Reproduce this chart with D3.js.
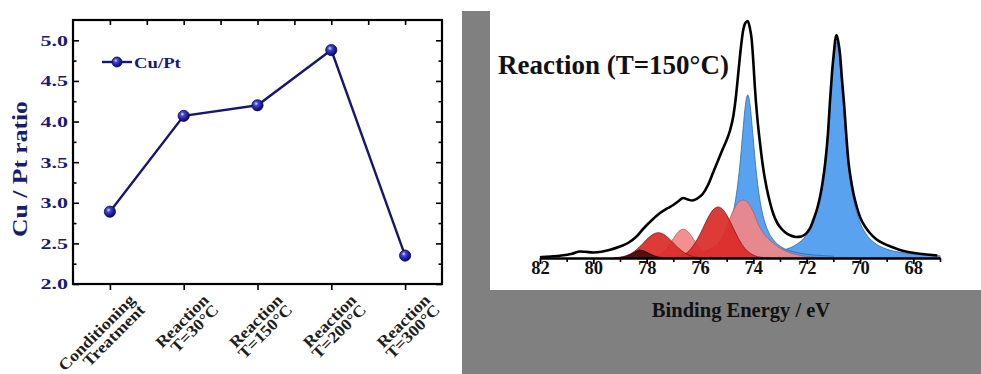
<!DOCTYPE html>
<html>
<head>
<meta charset="utf-8">
<script src="https://cdn.jsdelivr.net/npm/d3@7/dist/d3.min.js"></script>
<style>
  html, body { margin: 0; padding: 0; background: #fff; }
  svg { display: block; }
  text { font-family: "Liberation Serif", "Times New Roman", Times, serif; font-weight: bold; }
</style>
</head>
<body>
<svg id="fig" width="981" height="374"></svg>
<script>
// ---------- Left panel: Cu/Pt surface ratio per treatment step ----------
const categories = [
  ["Conditioning", "Treatment"],
  ["Reaction", "T=30°C"],
  ["Reaction", "T=150°C"],
  ["Reaction", "T=200°C"],
  ["Reaction", "T=300°C"]
];
const ratioValues = [2.89, 4.07, 4.20, 4.88, 2.35];
const ratioTicks = [2.0, 2.5, 3.0, 3.5, 4.0, 4.5, 5.0];
const ratioMinorTicks = [2.25, 2.75, 3.25, 3.75, 4.25, 4.75];
const seriesName = "Cu/Pt";
const ratioTitle = "Cu / Pt ratio";

// ---------- Right panel: Pt 4f spectrum, Reaction (T=150°C) ----------
const spectrumTitle = "Reaction (T=150°C)";
const energyTitle = "Binding Energy / eV";
const energyTicks = [82, 80, 78, 76, 74, 72, 70, 68];
const energyMinorTicks = [81, 79, 77, 75, 73, 71, 69, 67];

// measured envelope [binding energy (eV), intensity (a.u.)]
const envelope = [
  [82.0,0.7],[81.6,1.5],[81.2,2.5],[80.8,4.3],[80.5,6.5],[80.3,6.2],[80.0,5.5],[79.7,6.2],
  [79.4,8],[79.0,11.5],[78.7,15],[78.4,21],[78.1,30],[77.8,38],[77.5,45],[77.2,50],[77.0,53],
  [76.8,57],[76.63,60],[76.45,58.5],[76.3,57.5],[76.1,59.5],[75.9,64],[75.7,73],[75.5,86],
  [75.3,99],[75.13,110],[75.0,118],[74.88,127],[74.75,142],[74.65,162],[74.56,186],[74.46,212],
  [74.38,228],[74.3,235],[74.21,237],[74.13,230],[74.06,218],[74.0,196],[73.94,170],[73.85,140],
  [73.75,115],[73.62,88],[73.5,70],[73.38,56],[73.25,44],[73.1,35],[73.0,31],[72.8,25.5],
  [72.6,22.5],[72.4,21],[72.2,21.5],[72.0,25],[71.85,31],[71.75,38],[71.6,50],[71.5,61],
  [71.4,76],[71.3,96],[71.2,125],[71.13,155],[71.05,185],[70.98,205],[70.93,218],[70.88,223],
  [70.82,217],[70.75,204],[70.68,180],[70.6,155],[70.52,125],[70.44,98],[70.35,80],[70.25,65],
  [70.12,51],[70.0,41],[69.8,31],[69.63,25],[69.4,19],[69.13,14.7],[68.8,11],[68.5,8],
  [68.2,6],[67.9,4.7],[67.5,3.5],[67.1,2.5]
];

// fitted components [binding energy (eV), intensity (a.u.)]
const ptPeak71 = [
  [74.5,2.6],[74.0,3.4],[73.3,5.5],[72.8,8.5],[72.4,13.2],[72.0,23.4],[71.7,40],[71.5,61],
  [71.35,88],[71.2,129],[71.05,182],[70.95,209],[70.88,216],[70.8,207],[70.7,178],[70.55,126],
  [70.4,86],[70.2,53.5],[70.0,35.5],[69.8,25],[69.5,16],[69.0,8.9],[68.5,5.7],[68.0,3.9],
  [67.5,2.8],[67.0,2.2]
];
const ptPeak74 = [
  [77.4,1.8],[76.7,3.0],[76.2,4.6],[75.8,7.1],[75.5,10.4],[75.2,16.9],[75.0,24.9],[74.86,35],
  [74.71,51.5],[74.61,68.4],[74.51,91.6],[74.41,121],[74.31,150],[74.26,159.6],[74.21,163],
  [74.16,159.6],[74.11,150],[74.01,121],[73.91,91.6],[73.81,68.4],[73.71,51.5],[73.56,35],
  [73.41,24.9],[73.21,16.9],[72.91,10.4],[72.61,7.1],[72.21,4.6],[71.71,3.0],[71.0,1.8]
];
const pinkPeak744 = [
  [76.0,3],[75.6,8],[75.3,15],[75.1,24],[74.9,38],[74.7,50],[74.5,57],[74.38,58],[74.2,55],
  [74.0,46],[73.8,33],[73.6,24],[73.3,16],[73.0,10],[72.7,6],[72.4,3.5],[72.0,1.5],[71.5,0.3]
];
const pinkPeak766 = [
  [78.0,0.2],[77.6,2.0],[77.3,8.0],[77.1,15.3],[76.9,23.3],[76.75,27.6],[76.63,28.7],[76.5,27.4],
  [76.3,21.1],[76.1,12.9],[75.9,6.3],[75.6,1.4],[75.3,0.2]
];
const redPeak753 = [
  [77.0,0.5],[76.7,2.2],[76.4,7.4],[76.1,18.7],[75.9,29.2],[75.7,40.2],[75.5,48.4],[75.32,51],
  [75.15,48.6],[74.95,40.7],[74.75,29.8],[74.55,19.1],[74.3,9.1],[74.0,2.9],[73.7,0.7],[73.4,0.1]
];
const redPeak776 = [
  [79.2,0.3],[78.9,1.3],[78.6,4.2],[78.3,10.2],[78.0,18.4],[77.8,23],[77.56,25.3],[77.3,22.6],
  [77.1,17.8],[76.8,9.7],[76.5,3.9],[76.2,1.2],[75.9,0.3]
];
const darkPeak782 = [
  [79.0,0.5],[78.8,1.5],[78.6,3.8],[78.4,6.5],[78.25,8],[78.1,7],[77.9,4.5],[77.7,2],[77.4,0.4]
];

const svg = d3.select("#fig");
const navy = "#1b1b72";

// stretch a text horizontally about its own anchor point
function widen(sel, k) {
  sel.each(function () {
    const x = +this.getAttribute("x") || 0;
    const y = +this.getAttribute("y") || 0;
    this.setAttribute("transform", `translate(${x},${y}) scale(${k},1) translate(${-x},${-y})`);
  });
}

// ======================= Left panel =======================
const xL = d3.scaleLinear().domain([-0.5, 4.5]).range([73, 442]);
const yL = d3.scaleLinear().domain([2.0, 5.25]).range([284, 20]);

const defs = svg.append("defs");
const grad = defs.append("radialGradient").attr("id", "ball")
  .attr("cx", "38%").attr("cy", "35%").attr("r", "65%");
grad.append("stop").attr("offset", "0%").attr("stop-color", "#e4e4ff");
grad.append("stop").attr("offset", "28%").attr("stop-color", "#4646d6");
grad.append("stop").attr("offset", "70%").attr("stop-color", "#1d1da0");
grad.append("stop").attr("offset", "100%").attr("stop-color", "#0b0b55");

const left = svg.append("g");

function styleAxis(g) {
  g.select(".domain").remove();
  g.selectAll(".tick line").attr("stroke", "#000").attr("stroke-width", 1.6);
}

// left axis: labelled major ticks + minor ticks (inward)
const yAxisG = left.append("g").attr("transform", `translate(${xL.range()[0]},0)`)
  .call(d3.axisLeft(yL).tickValues(ratioTicks).tickSize(-6).tickPadding(5).tickFormat(d3.format(".1f")))
  .call(styleAxis);
yAxisG.selectAll(".tick text")
  .attr("fill", navy).attr("font-size", 15.5).attr("font-family", null)
  .call(widen, 1.42);
left.append("g").attr("transform", `translate(${xL.range()[0]},0)`)
  .call(d3.axisLeft(yL).tickValues(ratioMinorTicks).tickSize(-3.5).tickFormat(""))
  .call(styleAxis);

// right axis ticks (inward, unlabelled)
left.append("g").attr("transform", `translate(${xL.range()[1]},0)`)
  .call(d3.axisRight(yL).tickValues(ratioTicks).tickSize(-6).tickFormat(""))
  .call(styleAxis);
left.append("g").attr("transform", `translate(${xL.range()[1]},0)`)
  .call(d3.axisRight(yL).tickValues(ratioMinorTicks).tickSize(-3.5).tickFormat(""))
  .call(styleAxis);

// top axis ticks (inward)
left.append("g").attr("transform", `translate(0,${yL.range()[1]})`)
  .call(d3.axisTop(xL).tickValues(d3.range(0, 4.01, 0.5)).tickSize(-5).tickFormat(""))
  .call(styleAxis);

// bottom axis ticks (outward) + two-line rotated category labels
left.append("g").attr("transform", `translate(0,${yL.range()[0]})`)
  .call(d3.axisBottom(xL).tickValues(d3.range(categories.length)).tickSize(6).tickFormat(""))
  .call(styleAxis);

const catG = left.append("g").selectAll("g").data(categories).join("g")
  .attr("transform", (d, i) => `translate(${xL(i) + 26},${yL.range()[0] + 17}) rotate(-45) scale(1.12,1)`);
catG.selectAll("text").data(d => d).join("text")
  .attr("x", 0).attr("y", (d, j) => j * 14)
  .attr("text-anchor", "end")
  .attr("font-size", 16)
  .attr("fill", "#1e1e1e")
  .text(d => d);

// frame
left.append("rect")
  .attr("x", xL.range()[0]).attr("y", yL.range()[1])
  .attr("width", xL.range()[1] - xL.range()[0]).attr("height", yL.range()[0] - yL.range()[1])
  .attr("fill", "none").attr("stroke", "#000").attr("stroke-width", 2.2);

// y title
left.append("text")
  .attr("transform", `translate(27,169) rotate(-90) scale(1.22,1)`)
  .attr("text-anchor", "middle")
  .attr("font-size", 21)
  .attr("fill", navy)
  .text(ratioTitle);

// series line + sphere markers
const lineL = d3.line().x((d, i) => xL(i)).y(d => yL(d));
left.append("path").datum(ratioValues)
  .attr("d", lineL).attr("fill", "none")
  .attr("stroke", "#17176e").attr("stroke-width", 2.4);
left.append("g").selectAll("circle").data(ratioValues).join("circle")
  .attr("cx", (d, i) => xL(i)).attr("cy", d => yL(d)).attr("r", 5.6)
  .attr("fill", "url(#ball)").attr("stroke", "#0a0a45").attr("stroke-width", 0.8);

// legend
const legG = left.append("g").attr("transform", "translate(102,62)");
legG.append("line").attr("x1", 0).attr("x2", 30).attr("y1", 0).attr("y2", 0)
  .attr("stroke", "#17176e").attr("stroke-width", 2.4);
legG.append("circle").attr("cx", 15).attr("cy", 0).attr("r", 5)
  .attr("fill", "url(#ball)").attr("stroke", "#0a0a45").attr("stroke-width", 0.8);
legG.append("text").attr("x", 32).attr("y", 5.5)
  .attr("font-size", 15).attr("fill", navy).text(seriesName)
  .call(widen, 1.25);

// ======================= Right panel =======================
// grey backdrop around the spectrum frame
svg.append("rect").attr("x", 462).attr("y", 11).attr("width", 28).attr("height", 363).attr("fill", "#808080");
svg.append("rect").attr("x", 462).attr("y", 290).attr("width", 519).attr("height", 84).attr("fill", "#808080");

const xE = d3.scaleLinear().domain([82, 67]).range([540, 940]);
const yE = d3.scaleLinear().domain([0, 240]).range([258, 18]);

const areaE = d3.area().x(d => xE(d[0])).y0(yE(0)).y1(d => yE(d[1])).curve(d3.curveMonotoneX);
const lineE = d3.line().x(d => xE(d[0])).y(d => yE(d[1])).curve(d3.curveMonotoneX);

const blueFill = "#4b9aee", blueEdge = "#2d6aae";
const pinkFill = "#f38585", pinkEdge = "#b85a5a";
const redFill = "#da2a27", redEdge = "#861616";
const darkFill = "#4a0c0c", darkEdge = "#2a0505";

const peaks = [
  { data: ptPeak71, fill: blueFill, edge: blueEdge },
  { data: ptPeak74, fill: blueFill, edge: blueEdge },
  { data: pinkPeak744, fill: pinkFill, edge: pinkEdge },
  { data: pinkPeak766, fill: pinkFill, edge: pinkEdge },
  { data: redPeak753, fill: redFill, edge: redEdge },
  { data: redPeak776, fill: redFill, edge: redEdge },
  { data: darkPeak782, fill: darkFill, edge: darkEdge }
];

const right = svg.append("g");
right.append("g").selectAll("path").data(peaks).join("path")
  .attr("d", d => areaE(d.data))
  .attr("fill", d => d.fill)
  .attr("fill-opacity", 0.92)
  .attr("stroke", d => d.edge)
  .attr("stroke-width", 0.8);

right.append("path").datum(envelope)
  .attr("d", lineE).attr("fill", "none")
  .attr("stroke", "#000").attr("stroke-width", 2.6).attr("stroke-linejoin", "round");

// energy axis
const eAxis = right.append("g").attr("transform", `translate(0,${yE(0)})`)
  .call(d3.axisBottom(xE).tickValues(energyTicks).tickSize(6).tickSizeOuter(0));
eAxis.select(".domain").attr("stroke", "#000").attr("stroke-width", 2.4);
eAxis.selectAll(".tick line").attr("stroke", "#000").attr("stroke-width", 1.8);
eAxis.selectAll(".tick text")
  .attr("y", 3).attr("dy", "0.71em")
  .attr("font-size", 18.5).attr("font-family", null).attr("fill", "#111");
right.append("g").attr("transform", `translate(0,${yE(0)})`)
  .call(d3.axisBottom(xE).tickValues(energyMinorTicks).tickSize(4).tickFormat(""))
  .call(g => g.select(".domain").remove())
  .call(g => g.selectAll(".tick line").attr("stroke", "#000").attr("stroke-width", 1.6));

right.append("text").attr("x", 498).attr("y", 74)
  .attr("font-size", 27).attr("fill", "#111").text(spectrumTitle);

right.append("text").attr("x", 741).attr("y", 317)
  .attr("text-anchor", "middle").attr("font-size", 20.5).attr("fill", "#111").text(energyTitle);
</script>
</body>
</html>
